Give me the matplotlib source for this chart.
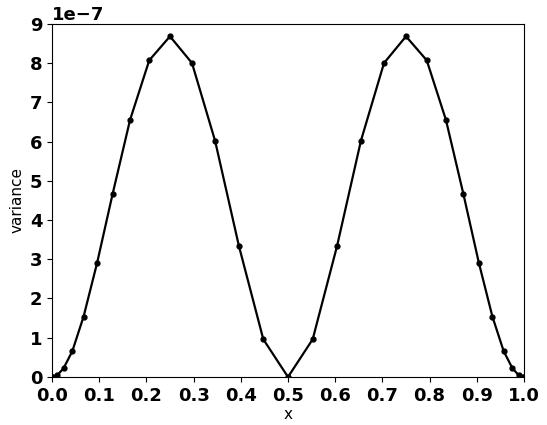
import numpy as np
import matplotlib
matplotlib.use("Agg")
import matplotlib.pyplot as plt

# nodos (x) y varianza (en unidades de 1e-7)
x_left = [0.0, 0.0027, 0.0109, 0.0245, 0.0432, 0.0670, 0.0955, 0.1284,
          0.1654, 0.2061, 0.25, 0.2966, 0.3455, 0.3960, 0.4477, 0.5]
var_left = [0.0, 0.005, 0.04, 0.22, 0.66, 1.54, 2.90, 4.66,
            6.55, 8.07, 8.68, 8.00, 6.02, 3.34, 0.96, 0.0]

x_right = [0.5523, 0.6040, 0.6545, 0.7034, 0.75, 0.7939, 0.8346, 0.8716,
           0.9045, 0.9330, 0.9568, 0.9755, 0.9891, 0.9973, 1.0]
var_right = [0.96, 3.34, 6.02, 8.00, 8.68, 8.07, 6.55, 4.66,
             2.90, 1.54, 0.66, 0.22, 0.04, 0.005, 0.0]

x = np.array(x_left + x_right)
variance = np.array(var_left + var_right) * 1e-7

fig = plt.figure(figsize=(5.47, 4.25), dpi=100)
ax = fig.add_axes([0.095, 0.113, 0.863, 0.831])

ax.plot(x, variance, color='black', linewidth=1.6, marker='o', markersize=3.5)

ax.set_xlim(0, 1)
ax.set_ylim(0, 9e-7)
ax.set_xticks(np.arange(0, 1.01, 0.1))
ax.set_yticks(np.arange(0, 9.1e-7, 1e-7))
ax.ticklabel_format(axis='y', style='sci', scilimits=(0, 0))

for lab in ax.get_xticklabels() + ax.get_yticklabels():
    lab.set_fontweight('bold')
    lab.set_fontsize(13)
ax.yaxis.get_offset_text().set_fontweight('bold')
ax.yaxis.get_offset_text().set_fontsize(13)

ax.set_xlabel("x", fontsize=11, labelpad=2)
ax.set_ylabel("variance", fontsize=11, labelpad=4)

fig.savefig("out.png", dpi=100)
